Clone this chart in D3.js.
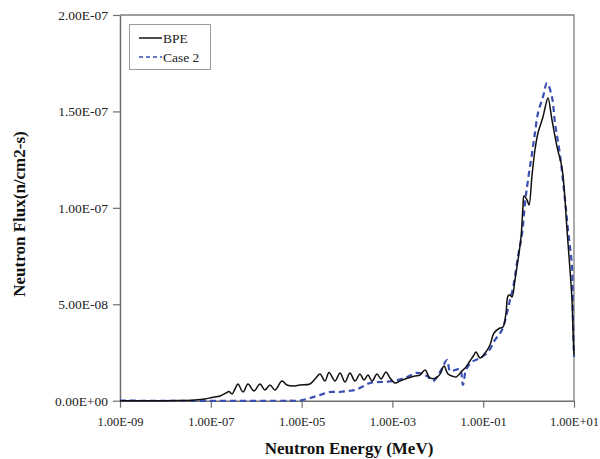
<!DOCTYPE html>
<html>
<head>
<meta charset="utf-8">
<script src="https://cdn.jsdelivr.net/npm/d3@7"></script>
<style>
  html, body { margin: 0; padding: 0; background: #fff; }
  svg { display: block; }
</style>
</head>
<body>
<svg id="chart" width="600" height="459"></svg>
<script>
// ---- data ----
const seriesNames = ["BPE", "Case 2"];

const bpeEnergy = [1e-9, 4.58e-9, 2.10e-8, 4.49e-8, 7.45e-8, 1.06e-7, 1.60e-7, 2.16e-7, 2.52e-7, 2.93e-7,
  3.41e-7, 3.97e-7, 5.12e-7, 6.59e-7, 8.95e-7, 1.21e-6, 1.56e-6, 2.01e-6, 2.59e-6, 3.70e-6,
  4.76e-6, 6.47e-6, 9.23e-6, 1.53e-5, 2.07e-5, 2.54e-5, 3.27e-5, 4.02e-5, 5.45e-5, 7.01e-5,
  9.04e-5, 1.16e-4, 1.50e-4, 1.93e-4, 2.37e-4, 2.90e-4, 3.56e-4, 4.58e-4, 5.61e-4, 7.23e-4,
  8.85e-4, 1.14e-3, 1.47e-3, 2.21e-3, 3.15e-3, 4.06e-3, 5.22e-3, 6.73e-3, 9.12e-3, 1.12e-2,
  1.37e-2, 1.68e-2, 2.06e-2, 2.52e-2, 3.41e-2, 4.18e-2, 5.12e-2, 6.27e-2, 6.93e-2, 8.51e-2,
  0.110, 0.141, 0.173, 0.234, 0.273, 0.318, 0.352, 0.389, 0.431, 0.501,
  0.585, 0.681, 0.753, 0.792, 0.923, 1.02, 1.19, 1.38, 1.61, 2.07,
  2.30, 2.67, 3.27, 4.23, 5.44, 6.34, 7.02, 8.17, 9.04, 9.50, 10];
const bpeFlux = [0, 0, 1.0e-10, 3.6e-10, 8.8e-10, 1.66e-9, 2.44e-9, 3.99e-9, 4.77e-9, 3.47e-9,
  6.07e-9, 8.66e-9, 4.51e-9, 8.66e-9, 5.03e-9, 8.66e-9, 5.55e-9, 8.14e-9, 5.55e-9, 1.02e-8,
  8.14e-9, 7.62e-9, 8.14e-9, 8.66e-9, 1.18e-8, 1.38e-8, 1.02e-8, 1.46e-8, 1.02e-8, 1.44e-8,
  9.70e-9, 1.44e-8, 1.02e-8, 1.38e-8, 1.07e-8, 1.33e-8, 1.02e-8, 1.38e-8, 1.13e-8, 1.49e-8,
  1.18e-8, 9.18e-9, 1.02e-8, 1.18e-8, 1.28e-8, 1.33e-8, 1.59e-8, 1.18e-8, 1.18e-8, 1.38e-8,
  1.80e-8, 1.38e-8, 1.28e-8, 1.23e-8, 1.54e-8, 1.75e-8, 2.06e-8, 2.37e-8, 2.53e-8, 2.21e-8,
  2.47e-8, 2.89e-8, 3.51e-8, 3.77e-8, 3.82e-8, 4.55e-8, 5.43e-8, 5.48e-8, 5.38e-8, 6.26e-8,
  7.30e-8, 8.49e-8, 1.010e-7, 1.061e-7, 1.041e-7, 1.015e-7, 1.170e-7, 1.300e-7, 1.388e-7, 1.471e-7,
  1.518e-7, 1.570e-7, 1.456e-7, 1.316e-7, 1.207e-7, 1.041e-7, 8.85e-8, 6.78e-8, 5.22e-8, 3.67e-8, 2.37e-8];

const case2Energy = [1e-9, 5.55e-6, 9.23e-6, 1.53e-5, 2.54e-5, 4.23e-5, 7.01e-5, 1.05e-4, 1.50e-4, 2.14e-4,
  3.21e-4, 5.33e-4, 1.03e-3, 2.10e-3, 3.48e-3, 5.78e-3, 7.83e-3, 1.12e-2, 1.60e-2, 1.86e-2,
  2.39e-2, 3.08e-2, 3.59e-2, 4.18e-2, 5.66e-2, 8.51e-2, 0.128, 0.182, 0.259, 0.334,
  0.389, 0.453, 0.585, 0.716, 0.834, 0.970, 1.19, 1.38, 1.61, 2.07,
  2.54, 3.27, 3.81, 4.92, 6.34, 7.38, 9.04, 9.50, 10];
const case2Flux = [0, 0, 1.0e-10, 1.4e-9, 2.96e-9, 4.51e-9, 4.51e-9, 5.03e-9, 5.55e-9, 7.10e-9,
  9.18e-9, 9.70e-9, 1.02e-8, 1.23e-8, 1.44e-8, 1.28e-8, 1.02e-8, 1.49e-8, 2.11e-8, 1.54e-8,
  1.59e-8, 1.64e-8, 8.14e-9, 1.59e-8, 2.01e-8, 2.21e-8, 2.53e-8, 3.15e-8, 3.67e-8, 4.55e-8,
  5.22e-8, 5.84e-8, 7.50e-8, 8.64e-8, 1.025e-7, 1.144e-7, 1.284e-7, 1.388e-7, 1.492e-7, 1.575e-7,
  1.647e-7, 1.575e-7, 1.440e-7, 1.274e-7, 1.041e-7, 8.85e-8, 6.93e-8, 4.18e-8, 2.27e-8];

const xTickValues = [1e-9, 1e-7, 1e-5, 1e-3, 1e-1, 1e1];
const xTickLabels = ["1.00E-09", "1.00E-07", "1.00E-05", "1.00E-03", "1.00E-01", "1.00E+01"];
const yTickValues = [0, 5e-8, 1e-7, 1.5e-7, 2e-7];
const yTickLabels = ["0.00E+00", "5.00E-08", "1.00E-07", "1.50E-07", "2.00E-07"];

const xTitle = "Neutron Energy (MeV)";
const yTitle = "Neutron Flux(n/cm2-s)";

// ---- drawing ----
const svg = d3.select("#chart");
const plotLeft = 120, plotRight = 574, plotTop = 15, plotBottom = 400.7;
const serif = "'Liberation Serif', 'Times New Roman', serif";

const x = d3.scaleLog().domain([1e-9, 10]).range([plotLeft, plotRight]);
const y = d3.scaleLinear().domain([0, 2e-7]).range([plotBottom, plotTop]);

// frame (top and right)
svg.append("path")
  .attr("d", `M${plotLeft},${plotTop}H${plotRight}V${plotBottom}`)
  .attr("fill", "none").attr("stroke", "#7f7f7f").attr("stroke-width", 1.3);

// y axis
const yAxis = svg.append("g").attr("transform", `translate(${plotLeft},0)`)
  .call(d3.axisLeft(y).tickValues(yTickValues).tickSize(7).tickSizeOuter(0)
    .tickFormat((d, i) => yTickLabels[i]));
yAxis.select(".domain").attr("stroke", "#6f6f6f").attr("stroke-width", 1.5);
yAxis.selectAll(".tick line").attr("stroke", "#6f6f6f").attr("stroke-width", 1.2);
yAxis.selectAll(".tick text").attr("font-family", serif).attr("font-size", 13.5)
  .attr("fill", "#222").attr("x", -12);

// x axis
const xAxis = svg.append("g").attr("transform", `translate(0,${plotBottom})`)
  .call(d3.axisBottom(x).tickValues(xTickValues).tickSize(7).tickSizeOuter(0)
    .tickFormat((d, i) => xTickLabels[i]));
xAxis.select(".domain").attr("stroke", "#6f6f6f").attr("stroke-width", 1.5);
xAxis.selectAll(".tick line").attr("stroke", "#6f6f6f").attr("stroke-width", 1.2);
xAxis.selectAll(".tick text").attr("font-family", serif).attr("font-size", 12.5)
  .attr("fill", "#222").attr("y", 16);

// lines
const line = d3.line()
  .x(d => x(d[0])).y(d => y(d[1]))
  .curve(d3.curveCatmullRom.alpha(0.5));

const bpe = bpeEnergy.map((e, i) => [e, bpeFlux[i]]);
const case2 = case2Energy.map((e, i) => [e, case2Flux[i]]);

svg.append("path").datum(case2)
  .attr("d", line).attr("fill", "none")
  .attr("stroke", "#3b4fb3").attr("stroke-width", 2.2)
  .attr("stroke-dasharray", "6,4");

svg.append("path").datum(bpe)
  .attr("d", line).attr("fill", "none")
  .attr("stroke", "#111").attr("stroke-width", 1.5);

// legend
const lg = svg.append("g");
lg.append("rect").attr("x", 129.5).attr("y", 24.5).attr("width", 81).attr("height", 45)
  .attr("fill", "#fff").attr("stroke", "#9a9a9a").attr("stroke-width", 1);
const legendStyles = [
  { color: "#111", dash: null, width: 1.5 },
  { color: "#3b4fb3", dash: "4,3", width: 1.6 }
];
seriesNames.forEach((name, i) => {
  const ly = 38 + i * 19;
  lg.append("line").attr("x1", 139).attr("x2", 162).attr("y1", ly).attr("y2", ly)
    .attr("stroke", legendStyles[i].color).attr("stroke-width", legendStyles[i].width)
    .attr("stroke-dasharray", legendStyles[i].dash);
  lg.append("text").attr("x", 163).attr("y", ly + 4.5)
    .attr("font-family", serif).attr("font-size", 13.5).attr("fill", "#222")
    .text(name);
});

// axis titles
svg.append("text").attr("x", 349).attr("y", 454)
  .attr("text-anchor", "middle").attr("font-family", serif)
  .attr("font-weight", "bold").attr("font-size", 17).attr("fill", "#111")
  .text(xTitle);

svg.append("text")
  .attr("transform", "translate(25,214) rotate(-90)")
  .attr("text-anchor", "middle").attr("font-family", serif)
  .attr("font-weight", "bold").attr("font-size", 17).attr("fill", "#111")
  .text(yTitle);
</script>
</body>
</html>
